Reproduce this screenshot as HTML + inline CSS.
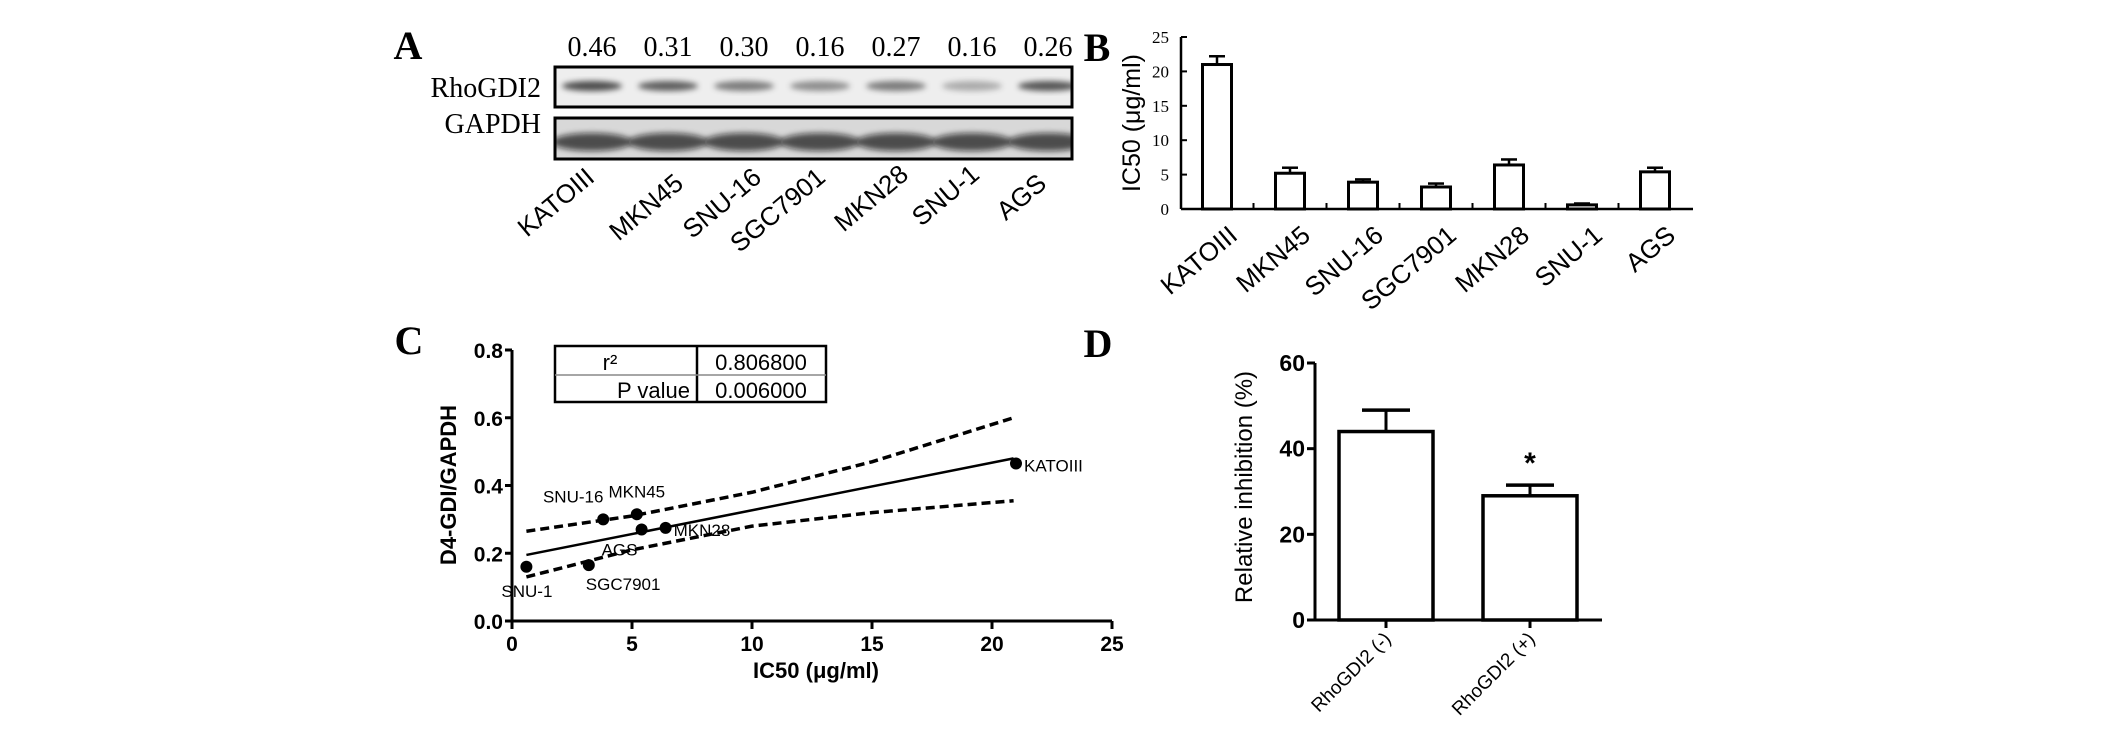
<!DOCTYPE html>
<html><head><meta charset="utf-8"><style>
html,body{margin:0;padding:0;background:#fff;}
svg{display:block;}
.serif{font-family:"Liberation Serif",serif;}
.sans{font-family:"Liberation Sans",sans-serif;}
</style></head><body>
<svg id="fig" width="2126" height="735" viewBox="0 0 2126 735" xmlns="http://www.w3.org/2000/svg">
<defs>
<filter id="blur" x="-20%" y="-50%" width="140%" height="200%"><feGaussianBlur stdDeviation="3"/></filter>
<clipPath id="clip1"><rect x="555" y="67" width="517" height="40"/></clipPath>
<clipPath id="clip2"><rect x="555" y="118" width="517" height="41"/></clipPath>
</defs>
<g id="panelA"></g>
<g id="panelB"></g>
<g id="panelC"></g>
<g id="panelD"></g>
</svg>
<script>
const cellLines = ["KATOIII","MKN45","SNU-16","SGC7901","MKN28","SNU-1","AGS"];
const blotRatios = ["0.46","0.31","0.30","0.16","0.27","0.16","0.26"];
const bandIntensity = [0.85,0.75,0.6,0.5,0.6,0.35,0.8];
const ic50Values = [21.0,5.2,3.9,3.2,6.4,0.6,5.4];
const ic50Errors = [1.2,0.8,0.4,0.5,0.8,0.2,0.6];
const bTicks = [0,5,10,15,20,25];
const scatterX = [21.0,5.2,3.8,3.2,6.4,0.6,5.4];
const scatterY = [0.465,0.315,0.30,0.165,0.275,0.16,0.27];
const scatterLabels = ["KATOIII","MKN45","SNU-16","SGC7901","MKN28","SNU-1","AGS"];
const fitX = [0.6,20.9];
const fitY = [0.195,0.48];
const upperX = [0.6,5,10,15,20.9];
const upperY = [0.265,0.31,0.38,0.47,0.60];
const lowerX = [0.6,5,10,15,20.9];
const lowerY = [0.13,0.21,0.28,0.32,0.355];
const cXTicks = [0,5,10,15,20,25];
const cYTicks = [0.0,0.2,0.4,0.6,0.8];
const dGroups = ["RhoGDI2 (-)","RhoGDI2 (+)"];
const dValues = [44,29];
const dErrors = [5,2.5];
const dTicks = [0,20,40,60];

const NS="http://www.w3.org/2000/svg";
function mk(parent,tag,attrs,text){const e=document.createElementNS(NS,tag);for(const k in attrs)e.setAttribute(k,attrs[k]);if(text!==undefined)e.textContent=text;parent.appendChild(e);return e;}

// ---------- Panel A ----------
const A=document.getElementById('panelA');
let t=mk(A,'text',{x:408,y:59,'font-size':40,'font-weight':'bold','text-anchor':'middle',class:'serif'},'A');


const laneX=i=>592+i*76;
mk(A,'rect',{x:555,y:67,width:517,height:40,fill:'#eeeeee'});
mk(A,'rect',{x:555,y:118,width:517,height:41,fill:'#d8d8d8'});
const g1=mk(A,'g',{'clip-path':'url(#clip1)'});
const g2=mk(A,'g',{'clip-path':'url(#clip2)'});
t=mk(A,'text',{x:541,y:97,'font-size':28,'text-anchor':'end',class:'serif'},'RhoGDI2');


t=mk(A,'text',{x:541,y:133,'font-size':28,'text-anchor':'end',class:'serif'},'GAPDH');


const labelEnds=[[596,176],[685,182],[763,176],[827,176],[910,173],[981,173],[1048,182]];
cellLines.forEach((c,i)=>{
  const x=laneX(i);
  let v=mk(A,'text',{x:x,y:56,'font-size':28,'text-anchor':'middle',class:'serif'},blotRatios[i]);
  
  
  let b=mk(g1,'ellipse',{cx:x,cy:86,rx:30,ry:5,fill:'#000','fill-opacity':bandIntensity[i]*0.8,filter:'url(#blur)'});
  
  
  let g=mk(g2,'ellipse',{cx:x,cy:142,rx:40,ry:9,fill:'#111','fill-opacity':0.7,filter:'url(#blur)'});
  
  
  const [lx,ly]=labelEnds[i];
  let l=mk(A,'text',{x:lx,y:ly+4,'font-size':26,'text-anchor':'end',transform:`rotate(-40 ${lx} ${ly+4})`,class:'sans'},c);
  
  
});
mk(A,'rect',{x:555,y:67,width:517,height:40,fill:'none',stroke:'#000','stroke-width':3});
mk(A,'rect',{x:555,y:118,width:517,height:41,fill:'none',stroke:'#000','stroke-width':3});

// ---------- Panel B ----------
const B=document.getElementById('panelB');
t=mk(B,'text',{x:1097,y:61,'font-size':40,'font-weight':'bold','text-anchor':'middle',class:'serif'},'B');


const bx0=1181,bx1=1693,by0=209,by1=37;
const bY=v=>by0+(by1-by0)*v/25;
const bX=i=>1217+i*73.0;
mk(B,'line',{x1:bx0,y1:by1,x2:bx0,y2:by0,stroke:'#000','stroke-width':2.5});
mk(B,'line',{x1:bx0,y1:by0,x2:bx1,y2:by0,stroke:'#000','stroke-width':2.5});
bTicks.forEach(v=>{
  mk(B,'line',{x1:bx0,y1:bY(v),x2:bx0+6,y2:bY(v),stroke:'#000','stroke-width':2});
  let tl=mk(B,'text',{x:bx0-12,y:bY(v)+6,'font-size':17,'text-anchor':'end',class:'serif'},String(v));
  
  
});
for(let i=1;i<cellLines.length;i++){const x=(bX(i-1)+bX(i))/2;mk(B,'line',{x1:x,y1:by0,x2:x,y2:by0-6,stroke:'#000','stroke-width':2});}
t=mk(B,'text',{x:1140,y:123,'font-size':25,'text-anchor':'middle',transform:'rotate(-90 1140 123)',class:'sans'},'IC50 (μg/ml)');


cellLines.forEach((c,i)=>{
  const x=bX(i),top=bY(ic50Values[i]),et=bY(ic50Values[i]+ic50Errors[i]);
  mk(B,'line',{x1:x,y1:top,x2:x,y2:et,stroke:'#000','stroke-width':2.5});
  mk(B,'line',{x1:x-8,y1:et,x2:x+8,y2:et,stroke:'#000','stroke-width':2.5});
  let r=mk(B,'rect',{x:x-14.5,y:top,width:29,height:by0-top,fill:'#fff',stroke:'#000','stroke-width':3});
  
  
  const lx=x+22,ly=238;
  let l=mk(B,'text',{x:lx,y:ly,'font-size':26,'text-anchor':'end',transform:`rotate(-40 ${lx} ${ly})`,class:'sans'},c);
  
  
});

// ---------- Panel C ----------
const C=document.getElementById('panelC');
t=mk(C,'text',{x:409,y:354,'font-size':40,'font-weight':'bold','text-anchor':'middle',class:'serif'},'C');


const cx0=512,cy0=621,cy1=350;
const cX=v=>cx0+v*24;
const cY=v=>cy0+(cy1-cy0)*v/0.8;
mk(C,'line',{x1:cx0,y1:cy1,x2:cx0,y2:cy0,stroke:'#000','stroke-width':3});
mk(C,'line',{x1:cx0,y1:cy0,x2:cX(25),y2:cy0,stroke:'#000','stroke-width':3});
cYTicks.forEach(v=>{
  mk(C,'line',{x1:cx0-7,y1:cY(v),x2:cx0,y2:cY(v),stroke:'#000','stroke-width':3});
  let tl=mk(C,'text',{x:cx0-9,y:cY(v)+8,'font-size':21,'font-weight':'bold','text-anchor':'end',class:'sans'},v.toFixed(1));
  
  
});
cXTicks.forEach(v=>{
  mk(C,'line',{x1:cX(v),y1:cy0,x2:cX(v),y2:cy0+8,stroke:'#000','stroke-width':3});
  let tl=mk(C,'text',{x:cX(v),y:cy0+30,'font-size':21,'font-weight':'bold','text-anchor':'middle',class:'sans'},String(v));
  
  
});
t=mk(C,'text',{x:816,y:678,'font-size':22,'font-weight':'bold','text-anchor':'middle',class:'sans'},'IC50 (μg/ml)');


t=mk(C,'text',{x:456,y:485,'font-size':22,'font-weight':'bold','text-anchor':'middle',transform:'rotate(-90 456 485)',class:'sans'},'D4-GDI/GAPDH');


const toPts=(xs,ys)=>xs.map((x,i)=>cX(x)+','+cY(ys[i])).join(' ');
let pl=mk(C,'polyline',{points:toPts(upperX,upperY),fill:'none',stroke:'#000','stroke-width':3.5,'stroke-dasharray':'9 5'});


pl=mk(C,'polyline',{points:toPts(lowerX,lowerY),fill:'none',stroke:'#000','stroke-width':3.5,'stroke-dasharray':'9 5'});


pl=mk(C,'polyline',{points:toPts(fitX,fitY),fill:'none',stroke:'#000','stroke-width':2.5});


const labOff={"KATOIII":[8,8,'start'],"MKN45":[0,-17,'middle'],"SNU-16":[-30,-17,'middle'],"SGC7901":[-3,25,'start'],"MKN28":[8,8,'start'],"SNU-1":[-25,30,'start'],"AGS":[-40,26,'start']};
scatterX.forEach((x,i)=>{
  const px=cX(x),py=cY(scatterY[i]);
  let d=mk(C,'circle',{cx:px,cy:py,r:6,fill:'#000'});
  
  
  const o=labOff[scatterLabels[i]];
  let l=mk(C,'text',{x:px+o[0],y:py+o[1],'font-size':17,'text-anchor':o[2],class:'sans'},scatterLabels[i]);
  
  
});
const tb=mk(C,'g',{});


mk(tb,'rect',{x:555,y:346,width:271,height:56,fill:'#fff',stroke:'#000','stroke-width':2.5});
mk(tb,'line',{x1:697,y1:346,x2:697,y2:402,stroke:'#000','stroke-width':2.5});
mk(tb,'line',{x1:555,y1:375,x2:826,y2:375,stroke:'#888','stroke-width':1.5});
mk(tb,'text',{x:610,y:370,'font-size':22,'text-anchor':'middle',class:'sans'},'r²');
mk(tb,'text',{x:690,y:398,'font-size':22,'text-anchor':'end',class:'sans'},'P value');
mk(tb,'text',{x:761,y:370,'font-size':22,'text-anchor':'middle',class:'sans'},'0.806800');
mk(tb,'text',{x:761,y:398,'font-size':22,'text-anchor':'middle',class:'sans'},'0.006000');

// ---------- Panel D ----------
const D=document.getElementById('panelD');
t=mk(D,'text',{x:1098,y:357,'font-size':40,'font-weight':'bold','text-anchor':'middle',class:'serif'},'D');


const dx0=1315,dx1=1602,dy0=620,dy1=363;
const dY=v=>dy0+(dy1-dy0)*v/60;
const dX=i=>1386+i*144;
mk(D,'line',{x1:dx0,y1:dy1,x2:dx0,y2:dy0,stroke:'#000','stroke-width':3});
mk(D,'line',{x1:dx0,y1:dy0,x2:dx1,y2:dy0,stroke:'#000','stroke-width':3});
dTicks.forEach(v=>{
  mk(D,'line',{x1:dx0-8,y1:dY(v),x2:dx0,y2:dY(v),stroke:'#000','stroke-width':3});
  let tl=mk(D,'text',{x:dx0-10,y:dY(v)+8,'font-size':23,'font-weight':'bold','text-anchor':'end',class:'sans'},String(v));
  
  
});
t=mk(D,'text',{x:1252,y:487,'font-size':24,'text-anchor':'middle',transform:'rotate(-90 1252 487)',class:'sans'},'Relative inhibition (%)');


dGroups.forEach((g,i)=>{
  const x=dX(i),top=dY(dValues[i]),et=dY(dValues[i]+dErrors[i]);
  mk(D,'line',{x1:x,y1:top,x2:x,y2:et,stroke:'#000','stroke-width':3});
  mk(D,'line',{x1:x-24,y1:et,x2:x+24,y2:et,stroke:'#000','stroke-width':3.5});
  let r=mk(D,'rect',{x:x-47,y:top,width:94,height:dy0-top,fill:'#fff',stroke:'#000','stroke-width':3.5});
  
  
  mk(D,'line',{x1:x,y1:dy0,x2:x,y2:dy0+8,stroke:'#000','stroke-width':3});
  const lx=x+6,ly=640;
  let l=mk(D,'text',{x:lx,y:ly,'font-size':19,'text-anchor':'end',transform:`rotate(-45 ${lx} ${ly})`,class:'sans'},g);
  
  
});
t=mk(D,'text',{x:dX(1),y:dY(dValues[1]+dErrors[1])-12,'font-size':30,'font-weight':'bold','text-anchor':'middle',class:'sans'},'*');


</script>
</body></html>
